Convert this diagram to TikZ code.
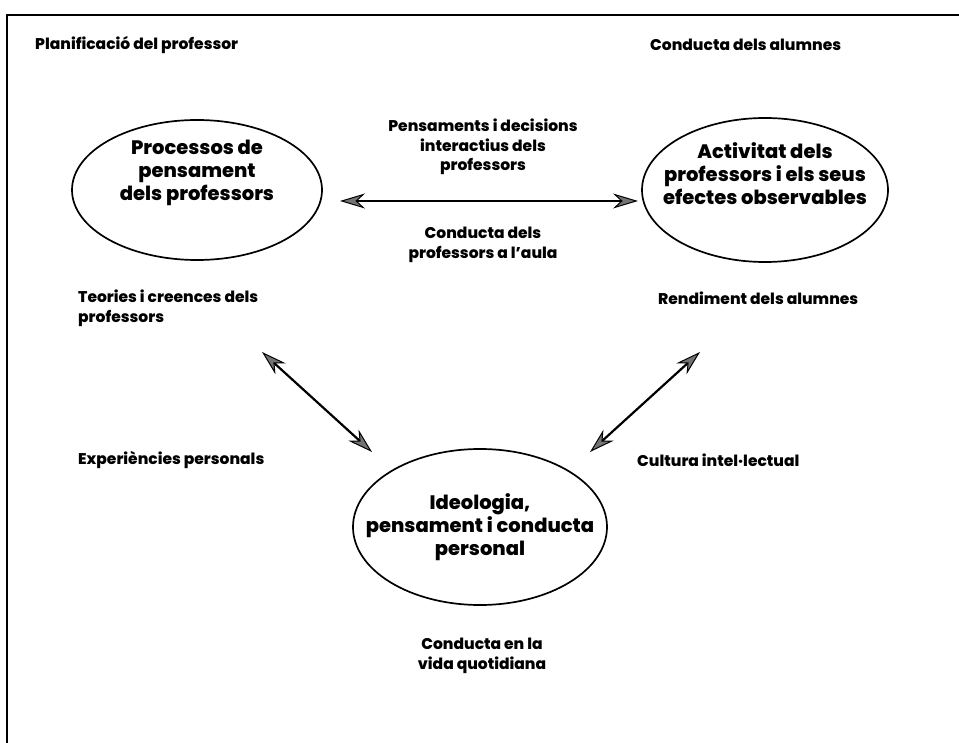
\documentclass[tikz,border=0pt]{standalone}
\usepackage{fontspec}
\setmainfont{Poppins}[BoldFont={Poppins ExtraBold}]
\usetikzlibrary{arrows.meta,shapes.geometric}
\tikzset{
  lbl/.style={font=\bfseries\fontsize{15.5}{20}\selectfont, inner sep=0pt, align=left, anchor=west},
  clbl/.style={font=\bfseries\fontsize{15.5}{19.5}\selectfont, inner sep=0pt, align=center},
  etxt/.style={font=\bfseries\fontsize{19.5}{23}\selectfont, inner sep=0pt, align=center},
  ellbox/.style={draw, line width=1.7pt, ellipse, inner sep=0pt},
  dbl/.style={line width=2.2pt, {Stealth[length=25pt,width=15pt,fill=black!55,line width=1pt]}-{Stealth[length=25pt,width=15pt,fill=black!55,line width=1pt]}}
}
\begin{document}
\begin{tikzpicture}[x=1pt,y=-1pt]
\useasboundingbox (0,0) rectangle (959,743);
\draw[line width=2pt] (7,760) -- (7,15) -- (970,15);
% top labels
\node[lbl] (plan) at (35,45) {Planificació del professor};
\node[lbl] (cond) at (650,45) {Conducta dels alumnes};
\node[clbl] (pens) at (483,147) {Pensaments i decisions\\interactius dels\\professors};
% ellipses
\node[ellbox, minimum width=250pt, minimum height=140pt] (L) at (197,190) {};
\node[etxt] (Lt) at (197,173) {Processos de\\pensament\\dels professors};
\node[ellbox, minimum width=246pt, minimum height=144pt] (R) at (765,190) {};
\node[etxt] (Rt) at (765,174) {Activitat dels\\professors i els seus\\efectes observables};
\node[ellbox, minimum width=254pt, minimum height=156pt] (B) at (480,527) {};
\node[etxt] (Bt) at (480,527) {Ideologia,\\pensament i conducta\\personal};
% arrow endpoints
\coordinate (h1) at (340,201);
\coordinate (h2) at (638,201);
\coordinate (d1) at (262,352);
\coordinate (d2) at (372,452);
\coordinate (e1) at (700,352);
\coordinate (e2) at (590,452);
\draw[dbl] (h1) -- (h2);
\draw[dbl] (d1) -- (d2);
\draw[dbl] (e1) -- (e2);
% other labels
\node[clbl] (caula) at (483,245) {Conducta dels\\professors a l’aula};
\node[lbl] (teo) at (78,308) {Teories i creences dels\\professors};
\node[lbl] (rend) at (658,298) {Rendiment dels alumnes};
\node[lbl] (exp) at (78,460) {Experiències personals};
\node[lbl] (cult) at (637,460) {Cultura intel·lectual};
\node[clbl] (vida) at (482,656) {Conducta en la\\vida quotidiana};
\end{tikzpicture}
\end{document}
